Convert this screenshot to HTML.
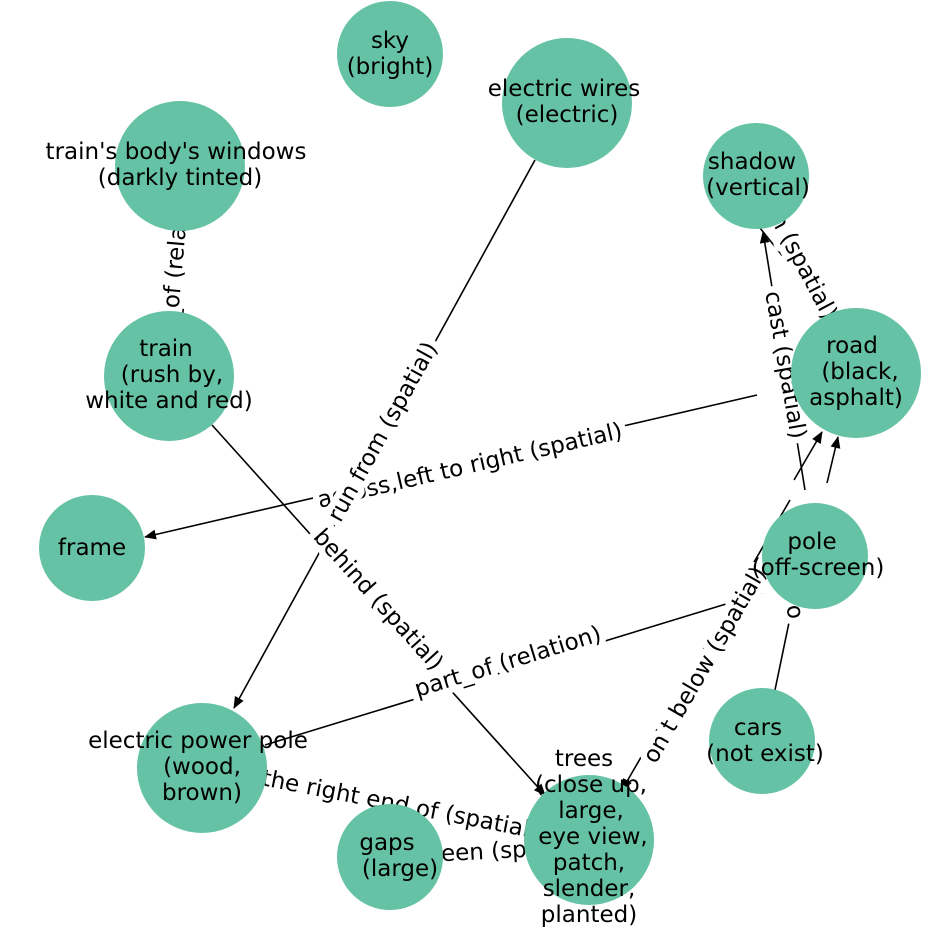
<!DOCTYPE html>
<html><head><meta charset="utf-8"><style>
html,body{margin:0;padding:0;background:#fff;}
svg{display:block;}
text{font-family:"DejaVu Sans","Liberation Sans",sans-serif;font-size:23px;fill:#000;}
.lbl{paint-order:stroke;stroke:#fff;stroke-width:13px;stroke-linejoin:round;}
line{stroke:#000;stroke-width:1.6;}
circle{fill:#66c2a5;}
</style></head><body>
<svg width="948" height="948" viewBox="0 0 948 948" xmlns="http://www.w3.org/2000/svg">
<defs><marker id="a" markerWidth="12" markerHeight="10" refX="11" refY="5" orient="auto" markerUnits="userSpaceOnUse"><path d="M0,0 L12,5 L0,10 Z" fill="#000"/></marker></defs>
<!-- edges -->
<line x1="180" y1="231" x2="169" y2="311"/>
<line x1="535" y1="160" x2="234" y2="708" marker-end="url(#a)"/>
<line x1="757" y1="395" x2="145" y2="537" marker-end="url(#a)"/>
<line x1="212" y1="425" x2="545" y2="795" marker-end="url(#a)"/>
<line x1="762" y1="593" x2="265" y2="745"/>
<line x1="794" y1="480" x2="822" y2="432" marker-end="url(#a)"/>
<line x1="827" y1="483" x2="838" y2="437" marker-end="url(#a)"/>
<line x1="790" y1="500" x2="622" y2="790" marker-end="url(#a)"/>
<line x1="805" y1="490" x2="763" y2="232" marker-end="url(#a)"/>
<line x1="775" y1="690" x2="792" y2="608"/>
<line x1="760" y1="228" x2="830" y2="315"/>
<line x1="265" y1="785" x2="525" y2="830"/>
<line x1="440" y1="855" x2="525" y2="850"/>
<!-- labels -->
<text class="lbl" transform="translate(175,270) rotate(-85)" text-anchor="middle" dominant-baseline="central">part_of (relation)</text>
<text class="lbl" transform="translate(800,260) rotate(62)" text-anchor="middle" dominant-baseline="central">on (spatial)</text>
<text class="lbl" transform="translate(470,466) rotate(-13)" text-anchor="middle" dominant-baseline="central">across,left to right (spatial)</text>
<text class="lbl" transform="translate(383,432) rotate(-61)" text-anchor="middle" dominant-baseline="central">run from (spatial)</text>
<text class="lbl" transform="translate(378,600) rotate(48)" text-anchor="middle" dominant-baseline="central">behind (spatial)</text>
<text class="lbl" transform="translate(508,662) rotate(-17)" text-anchor="middle" dominant-baseline="central">part_of (relation)</text>
<text class="lbl" transform="translate(785,365) rotate(80)" text-anchor="middle" dominant-baseline="central">cast (spatial)</text>
<text class="lbl" transform="translate(705,665) rotate(-60)" text-anchor="middle" dominant-baseline="central">on t below (spatial)</text>
<text class="lbl" transform="translate(793,612) rotate(-100)" text-anchor="middle" dominant-baseline="central">o</text>
<text class="lbl" transform="translate(400,805) rotate(11)" text-anchor="middle" dominant-baseline="central">the right end of (spatial)</text>
<text class="lbl" transform="translate(485,852) rotate(-3)" text-anchor="middle" dominant-baseline="central">between (spatial)</text>
<!-- nodes -->
<circle cx="390" cy="54" r="53"/>
<circle cx="567" cy="103" r="65"/>
<circle cx="180" cy="166" r="65"/>
<circle cx="756" cy="176" r="53"/>
<circle cx="169" cy="376" r="65"/>
<circle cx="856" cy="373" r="65"/>
<circle cx="92" cy="548" r="53"/>
<circle cx="815" cy="556" r="53"/>
<circle cx="762" cy="741" r="53"/>
<circle cx="202" cy="768" r="65"/>
<circle cx="390" cy="857" r="53"/>
<circle cx="589" cy="840" r="65"/>
<!-- node text -->
<g text-anchor="middle">
<text x="390" y="48">sky</text><text x="390" y="74">(bright)</text>
<text x="564" y="96">electric wires</text><text x="567" y="122">(electric)</text>
<text x="176" y="159">train's body's windows</text><text x="180" y="185">(darkly tinted)</text>
<text x="752" y="169">shadow</text><text x="758" y="195">(vertical)</text>
<text x="166" y="356">train</text><text x="172" y="382">(rush by,</text><text x="169" y="408">white and red)</text>
<text x="852" y="353">road</text><text x="860" y="379">(black,</text><text x="856" y="405">asphalt)</text>
<text x="92" y="555">frame</text>
<text x="812" y="549">pole</text><text x="818" y="575">(off-screen)</text>
<text x="758" y="735">cars</text><text x="765" y="761">(not exist)</text>
<text x="198" y="748">electric power pole</text><text x="202" y="774">(wood,</text><text x="202" y="800">brown)</text>
<text x="387" y="850">gaps</text><text x="400" y="876">(large)</text>
<text x="584" y="766">trees</text><text x="591" y="792">(close up,</text><text x="591" y="818">large,</text><text x="593" y="844">eye view,</text><text x="589" y="870">patch,</text><text x="589" y="896">slender,</text><text x="589" y="922">planted)</text>
</g>
</svg>
</body></html>
